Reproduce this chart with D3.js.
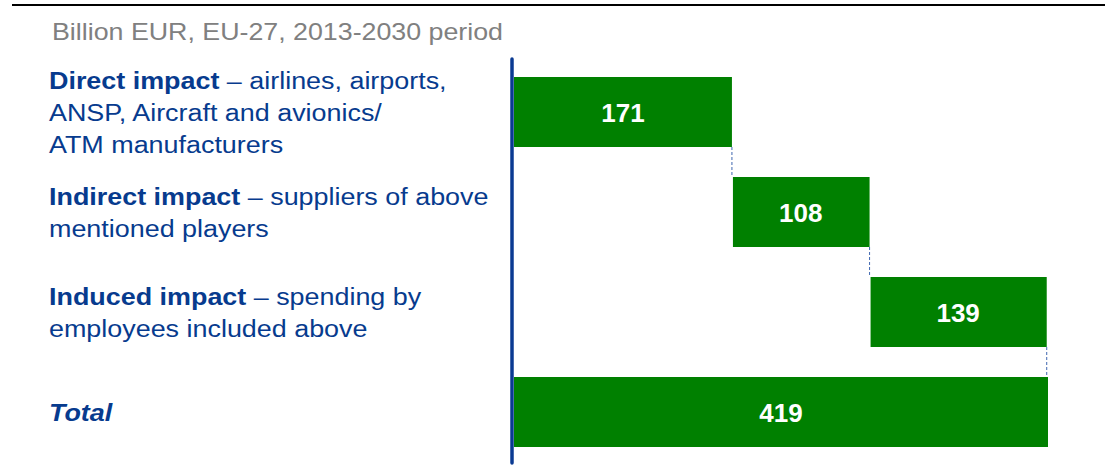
<!DOCTYPE html>
<html>
<head>
<meta charset="utf-8">
<script src="https://cdn.jsdelivr.net/npm/d3@7"></script>
<style>
    html, body { margin: 0; padding: 0; background: #fff; }
    svg { display: block; }
    text { font-family: "Liberation Sans", Arial, sans-serif; }
</style>
</head>
<body>
<svg id="chart" width="1105" height="475"></svg>
<script>
    // chart data
    const categories = ["direct", "indirect", "induced", "total"];
    const values = [171, 108, 139, 419];
    const isTotal = [false, false, false, true];
    const subtitle = "Billion EUR, EU-27, 2013-2030 period";
    // each line: [bold part, regular part]
    const labelLines = [
        [["Direct impact", " \u2013 airlines, airports,"], ["", "ANSP, Aircraft and avionics/"], ["", "ATM manufacturers"]],
        [["Indirect impact", " \u2013 suppliers of above"], ["", "mentioned players"]],
        [["Induced impact", " \u2013 spending by"], ["", "employees included above"]],
        [["Total", ""]]
    ];

    const blue = "#073b8e";
    const green = "#008000";

    const svg = d3.select("#chart");

    // rule across the top (figure title above is cropped off)
    svg.append("line")
        .attr("x1", 12).attr("x2", 1105)
        .attr("y1", 5).attr("y2", 5)
        .attr("stroke", "#000").attr("stroke-width", 2);

    svg.append("text")
        .attr("transform", "translate(52,40) scale(1.165,1)")
        .attr("font-size", 23)
        .attr("fill", "#808080")
        .text(subtitle);

    // waterfall starts
    let running = 0;
    const bars = values.map((v, i) => {
        let start = isTotal[i] ? 0 : running;
        if (!isTotal[i]) running += v;
        return {key: categories[i], value: v, start: start, end: start + v, total: isTotal[i]};
    });

    const x = d3.scaleLinear()
        .domain([0, d3.max(bars, d => d.end)])
        .range([514, 1048]);

    const y = d3.scaleBand()
        .domain(categories)
        .range([62, 462])
        .paddingInner(0.3)
        .paddingOuter(0.15);

    // connectors
    svg.append("g")
        .selectAll("line")
        .data(bars.slice(0, -1))
        .enter()
        .append("line")
        .attr("x1", d => x(d.end)).attr("x2", d => x(d.end))
        .attr("y1", d => y(d.key) + y.bandwidth())
        .attr("y2", (d, i) => y(bars[i + 1].key))
        .attr("stroke", "#3f67b0")
        .attr("stroke-width", 1)
        .attr("stroke-dasharray", "3,2");

    svg.append("g")
        .selectAll("rect")
        .data(bars)
        .enter()
        .append("rect")
        .attr("x", d => x(d.start) + (d.start > 0 ? 1 : 0))
        .attr("y", d => y(d.key))
        .attr("width", d => x(d.end) - x(d.start) - (d.start > 0 ? 1 : 0))
        .attr("height", y.bandwidth())
        .attr("fill", green);

    svg.append("g")
        .selectAll("text")
        .data(bars)
        .enter()
        .append("text")
        .attr("x", d => (x(d.start) + x(d.end)) / 2)
        .attr("y", d => y(d.key) + y.bandwidth() / 2 + 9.5)
        .attr("text-anchor", "middle")
        .attr("font-size", 26)
        .attr("font-weight", "bold")
        .attr("fill", "#fff")
        .text(d => d.value);

    // vertical axis line
    svg.append("line")
        .attr("x1", 512).attr("x2", 512)
        .attr("y1", 59).attr("y2", 463)
        .attr("stroke", "#0a3a92")
        .attr("stroke-width", 3.5)
        .attr("stroke-linecap", "round");

    // category labels on the left
    const lineGap = 32;
    categories.forEach((c, i) => {
        let lines = labelLines[i];
        let cy = y(c) + y.bandwidth() / 2;
        let first = cy - (lines.length - 1) * lineGap / 2 + 9;
        lines.forEach((ln, j) => {
            let t = svg.append("text")
                .attr("transform", `translate(49,${first + j * lineGap}) scale(1.17,1)`)
                .attr("font-size", 23)
                .attr("fill", blue);
            if (ln[0]) {
                t.append("tspan")
                    .attr("font-weight", "bold")
                    .attr("font-style", isTotal[i] ? "italic" : null)
                    .text(ln[0]);
            }
            if (ln[1]) t.append("tspan").text(ln[1]);
        });
    });
</script>
</body>
</html>
